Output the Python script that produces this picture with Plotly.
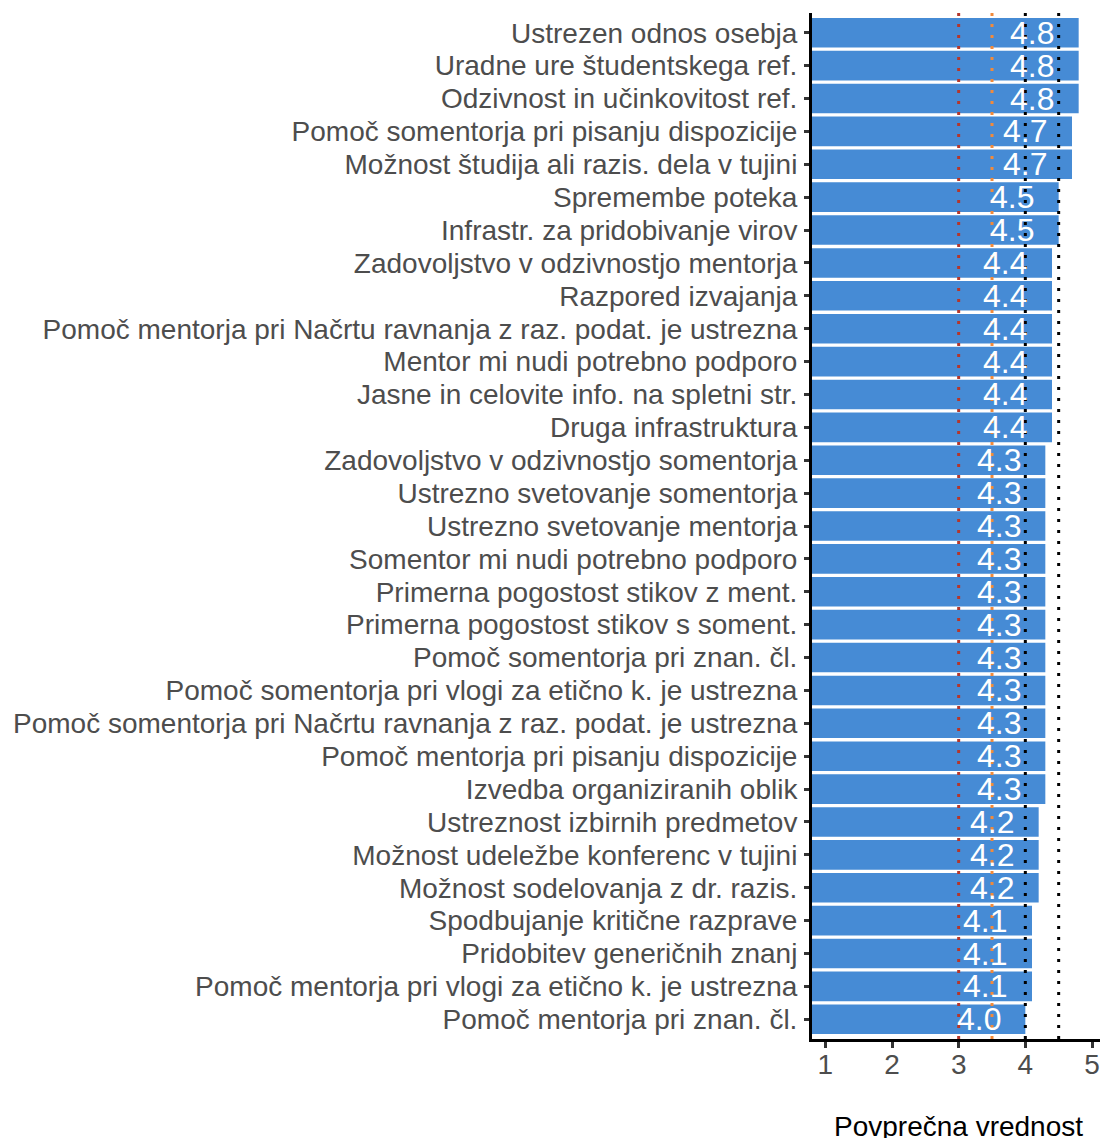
import plotly.graph_objects as go

# Items (top to bottom) and their mean scores
labels = [
    "Ustrezen odnos osebja",
    "Uradne ure študentskega ref.",
    "Odzivnost in učinkovitost ref.",
    "Pomoč somentorja pri pisanju dispozicije",
    "Možnost študija ali razis. dela v tujini",
    "Spremembe poteka",
    "Infrastr. za pridobivanje virov",
    "Zadovoljstvo v odzivnostjo mentorja",
    "Razpored izvajanja",
    "Pomoč mentorja pri Načrtu ravnanja z raz. podat. je ustrezna",
    "Mentor mi nudi potrebno podporo",
    "Jasne in celovite info. na spletni str.",
    "Druga infrastruktura",
    "Zadovoljstvo v odzivnostjo somentorja",
    "Ustrezno svetovanje somentorja",
    "Ustrezno svetovanje mentorja",
    "Somentor mi nudi potrebno podporo",
    "Primerna pogostost stikov z ment.",
    "Primerna pogostost stikov s soment.",
    "Pomoč somentorja pri znan. čl.",
    "Pomoč somentorja pri vlogi za etično k. je ustrezna",
    "Pomoč somentorja pri Načrtu ravnanja z raz. podat. je ustrezna",
    "Pomoč mentorja pri pisanju dispozicije",
    "Izvedba organiziranih oblik",
    "Ustreznost izbirnih predmetov",
    "Možnost udeležbe konferenc v tujini",
    "Možnost sodelovanja z dr. razis.",
    "Spodbujanje kritične razprave",
    "Pridobitev generičnih znanj",
    "Pomoč mentorja pri vlogi za etično k. je ustrezna",
    "Pomoč mentorja pri znan. čl.",
]
values = [4.8, 4.8, 4.8, 4.7, 4.7, 4.5, 4.5, 4.4, 4.4, 4.4, 4.4, 4.4, 4.4,
          4.3, 4.3, 4.3, 4.3, 4.3, 4.3, 4.3, 4.3, 4.3, 4.3, 4.3,
          4.2, 4.2, 4.2, 4.1, 4.1, 4.1, 4.0]

# Reference lines
ref_lines = [3.0, 3.5, 4.0, 4.5]
ref_colors = ["#B5362B", "#F28A3A", "#000000", "#000000"]

FONT = "Liberation Sans, Arial, sans-serif"
label_offset = 0.7  # value labels sit left of the bar end

fig = go.Figure()

fig.add_trace(go.Bar(
    x=values,
    y=labels,
    orientation="h",
    base=0,
    marker=dict(color="#468BD5", line=dict(width=0)),
    hoverinfo="x+y",
))

# value labels inside the bars
for lab, v in zip(labels, values):
    fig.add_annotation(
        x=v - label_offset, y=lab,
        xref="x", yref="y",
        text=f"{v:.1f}",
        showarrow=False,
        xanchor="center", yanchor="middle",
        font=dict(family=FONT, size=32, color="white"),
    )

for xv, col in zip(ref_lines, ref_colors):
    fig.add_shape(
        type="line", xref="x", yref="paper",
        x0=xv, x1=xv, y0=0, y1=1,
        line=dict(color=col, width=3, dash="3px,8px"),
        layer="above",
    )

fig.add_annotation(
    text="Povprečna vrednost",
    xref="x", yref="paper",
    x=3.0, y=-0.085,
    xanchor="center", yanchor="middle",
    showarrow=False,
    font=dict(family=FONT, size=28, color="black"),
)

fig.update_layout(
    width=1100,
    height=1138,
    margin=dict(l=812, r=0, t=13, b=99),
    plot_bgcolor="white",
    paper_bgcolor="white",
    showlegend=False,
    bargap=0.1,
    font=dict(family=FONT),
)

fig.update_xaxes(
    range=[0.8, 5.12],
    tickvals=[1, 2, 3, 4, 5],
    showgrid=False,
    zeroline=False,
    showline=True,
    linecolor="black",
    linewidth=3,
    ticks="outside",
    ticklen=6,
    tickwidth=2.5,
    tickcolor="#333333",
    ticklabelstandoff=-8,
    tickfont=dict(family=FONT, size=28, color="#4d4d4d"),
)

fig.update_yaxes(
    categoryorder="array",
    categoryarray=labels[::-1],
    tickmode="array",
    tickvals=labels,
    ticktext=labels,
    range=[-0.6, len(labels) - 0.4],
    showgrid=False,
    zeroline=False,
    showline=True,
    linecolor="black",
    linewidth=3,
    ticks="outside",
    ticklen=5,
    tickwidth=2.5,
    tickcolor="#333333",
    ticklabelstandoff=1,
    tickfont=dict(family=FONT, size=28, color="#4d4d4d"),
)

# drop the default page margin so the figure fills the window exactly
fig.write_html(
    "out.html",
    config={"displayModeBar": False},
    post_script="document.body.style.margin = '0';",
)
